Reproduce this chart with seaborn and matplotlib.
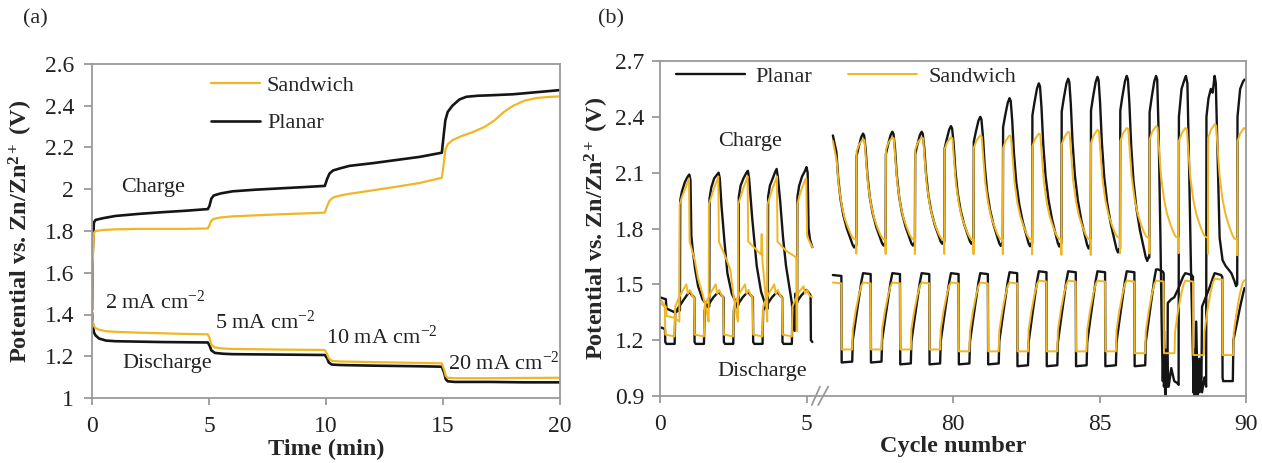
import matplotlib
matplotlib.use("Agg")
import matplotlib.pyplot as plt
from matplotlib.lines import Line2D
import numpy as np
import pandas as pd
import seaborn as sns

# ===================== Panel (a): rate test (time in min, potential in V) =====================
A_PL_CH_T = [0, 0.03, 0.08, 0.15, 0.5, 1, 2, 3, 4, 4.95, 5.02, 5.1, 5.2, 5.5, 6, 7, 8, 9, 9.95, 10.05,
             10.15, 10.3, 10.6, 11, 12, 13, 14, 14.95, 15.03, 15.1, 15.2, 15.4, 15.7, 16, 16.5, 17, 18, 19, 20]
A_PL_CH_V = [1.42, 1.70, 1.84, 1.853, 1.862, 1.872, 1.882, 1.89, 1.897, 1.905, 1.92, 1.955, 1.97, 1.98, 1.99,
             1.998, 2.004, 2.01, 2.016, 2.05, 2.075, 2.09, 2.10, 2.112, 2.125, 2.14, 2.155, 2.175, 2.26, 2.33,
             2.37, 2.40, 2.43, 2.443, 2.448, 2.45, 2.455, 2.465, 2.475]
A_SW_CH_T = [0, 0.03, 0.08, 0.15, 0.5, 1, 2, 3, 4, 4.95, 5.03, 5.1, 5.2, 5.5, 6, 7, 8, 9, 9.95, 10.05,
             10.15, 10.3, 10.6, 11, 12, 13, 14, 14.95, 15.03, 15.1, 15.2, 15.4, 15.8, 16.3, 16.8, 17.2, 17.6,
             18, 18.5, 19, 19.5, 20]
A_SW_CH_V = [1.42, 1.65, 1.79, 1.80, 1.805, 1.808, 1.81, 1.81, 1.81, 1.812, 1.83, 1.85, 1.858, 1.865, 1.87,
             1.875, 1.88, 1.884, 1.888, 1.92, 1.945, 1.96, 1.97, 1.978, 1.995, 2.012, 2.03, 2.055, 2.12, 2.19,
             2.215, 2.235, 2.255, 2.275, 2.30, 2.33, 2.37, 2.40, 2.425, 2.437, 2.442, 2.445]
A_DIS_T = [0, 0.03, 0.08, 0.15, 0.3, 0.6, 1, 2, 3, 4, 4.95, 5.03, 5.1, 5.25, 5.6, 6, 8, 9.95, 10.05, 10.12,
           10.25, 10.6, 12, 14, 14.95, 15.05, 15.12, 15.2, 15.5, 17, 18.5, 20]
A_PL_DIS_V = [1.41, 1.36, 1.315, 1.30, 1.285, 1.275, 1.272, 1.27, 1.268, 1.267, 1.266, 1.25, 1.228, 1.216,
              1.212, 1.21, 1.208, 1.206, 1.19, 1.17, 1.16, 1.158, 1.155, 1.152, 1.15, 1.12, 1.09, 1.08,
              1.077, 1.077, 1.075, 1.075]
A_SW_DIS_V = [1.41, 1.37, 1.345, 1.335, 1.327, 1.32, 1.317, 1.313, 1.31, 1.307, 1.305, 1.285, 1.255, 1.242,
              1.237, 1.235, 1.232, 1.23, 1.21, 1.19, 1.178, 1.175, 1.172, 1.168, 1.166, 1.135, 1.105, 1.097,
              1.095, 1.095, 1.096, 1.097]
A_XTICKS = [0, 5, 10, 15, 20]
A_YTICKS = [1, 1.2, 1.4, 1.6, 1.8, 2, 2.2, 2.4, 2.6]
A_YTICK_LABELS = ["1", "1.2", "1.4", "1.6", "1.8", "2", "2.2", "2.4", "2.6"]
A_RATE_LABELS = ["2 mA cm$^{-2}$", "5 mA cm$^{-2}$", "10 mA cm$^{-2}$", "20 mA cm$^{-2}$"]

# ===================== Panel (b): cycling (cycle number, potential in V) =====================
# first cycles 0-5.2 (read vertex by vertex)
B_PL_CH_L_C = [0, 0.2, 0.22, 0.5, 0.68, 0.69, 0.75, 0.85, 0.95, 1.0, 1.04, 1.07, 1.12, 1.2, 1.3, 1.45, 1.6, 1.68,
               1.69, 1.75, 1.85, 1.95, 2.0, 2.04, 2.1, 2.2, 2.3, 2.45, 2.6, 2.68,
               2.69, 2.75, 2.85, 2.95, 3.0, 3.04, 3.15, 3.3, 3.45, 3.6, 3.68,
               3.69, 3.75, 3.85, 3.92, 3.98, 4.02, 4.1, 4.2, 4.3, 4.4, 4.5, 4.55, 4.6, 4.62, 4.68,
               4.69, 4.75, 4.85, 4.95, 5.0, 5.04, 5.07, 5.12, 5.2]
B_PL_CH_L_V = [1.43, 1.42, 1.37, 1.35, 1.36, 1.95, 2.00, 2.05, 2.08, 2.09, 2.06, 1.76, 1.68, 1.58, 1.49, 1.42, 1.39, 1.38,
               1.96, 2.02, 2.07, 2.09, 2.10, 2.07, 1.92, 1.73, 1.56, 1.45, 1.40, 1.39,
               1.97, 2.03, 2.07, 2.10, 2.11, 2.07, 1.85, 1.60, 1.46, 1.39, 1.37,
               1.97, 2.03, 2.07, 2.10, 2.12, 2.08, 1.95, 1.75, 1.60, 1.50, 1.40, 1.28, 1.25, 1.45, 1.40,
               1.97, 2.03, 2.08, 2.11, 2.13, 2.10, 1.80, 1.74, 1.70]
B_SW_CH_L_C = [0, 0.2, 0.22, 0.5, 0.66, 0.67, 0.75, 0.85, 0.95, 0.99, 1.01, 1.1, 1.2, 1.3, 1.45, 1.6, 1.66,
               1.67, 1.75, 1.85, 1.95, 1.99, 2.01, 2.2, 2.4, 2.5, 2.6, 2.66,
               2.67, 2.75, 2.85, 2.95, 2.99, 3.01, 3.2, 3.45, 3.47, 3.5, 3.6, 3.66,
               3.67, 3.75, 3.85, 3.95, 3.99, 4.01, 4.3, 4.6, 4.65, 4.66, 4.68,
               4.69, 4.75, 4.85, 4.95, 4.99, 5.02, 5.1, 5.2]
B_SW_CH_L_V = [1.42, 1.38, 1.33, 1.32, 1.30, 1.93, 1.97, 2.01, 2.05, 2.07, 1.73, 1.68, 1.62, 1.53, 1.45, 1.35, 1.30,
               1.93, 1.97, 2.02, 2.06, 2.08, 1.73, 1.66, 1.58, 1.45, 1.35, 1.30,
               1.93, 1.97, 2.02, 2.06, 2.08, 1.73, 1.70, 1.66, 1.77, 1.62, 1.45, 1.30,
               1.93, 1.97, 2.02, 2.06, 2.08, 1.73, 1.68, 1.65, 1.64, 1.25, 1.25,
               1.93, 1.97, 2.02, 2.06, 2.07, 1.76, 1.73, 1.70]
B_PL_DIS_L_C = [0, 0.17, 0.18, 0.22, 0.50, 0.52, 0.65, 0.82, 1.0, 1.1, 1.17,
                1.18, 1.22, 1.50, 1.52, 1.65, 1.82, 2.0, 2.1, 2.17,
                2.18, 2.22, 2.50, 2.52, 2.65, 2.82, 3.0, 3.1, 3.17,
                3.18, 3.22, 3.50, 3.52, 3.65, 3.82, 4.0, 4.1, 4.17,
                4.18, 4.22, 4.50, 4.52, 4.65, 4.82, 5.0, 5.1, 5.14, 5.15, 5.2]
B_PL_DIS_L_V = [1.27, 1.26, 1.19, 1.18, 1.18, 1.35, 1.38, 1.42, 1.46, 1.44, 1.43,
                1.19, 1.18, 1.18, 1.36, 1.39, 1.43, 1.46, 1.44, 1.43,
                1.19, 1.18, 1.18, 1.36, 1.39, 1.43, 1.46, 1.44, 1.43,
                1.19, 1.18, 1.18, 1.36, 1.39, 1.43, 1.46, 1.44, 1.43,
                1.19, 1.18, 1.18, 1.37, 1.40, 1.44, 1.47, 1.45, 1.44, 1.20, 1.19]
B_SW_DIS_L_C = [0, 0.16, 0.18, 0.50, 0.52, 0.62, 0.75, 0.9, 0.95, 1.02, 1.1, 1.16,
                1.18, 1.50, 1.52, 1.62, 1.75, 1.9, 1.95, 2.02, 2.1, 2.16,
                2.18, 2.50, 2.52, 2.62, 2.75, 2.9, 2.95, 3.02, 3.1, 3.16,
                3.18, 3.50, 3.52, 3.62, 3.75, 3.9, 3.95, 4.02, 4.1, 4.16,
                4.18, 4.50, 4.52, 4.62, 4.75, 4.9, 4.95, 5.02, 5.1, 5.2]
B_SW_DIS_L_V = [1.40, 1.38, 1.23, 1.22, 1.38, 1.42, 1.46, 1.50, 1.45, 1.47, 1.44, 1.43,
                1.23, 1.22, 1.38, 1.42, 1.46, 1.50, 1.45, 1.47, 1.44, 1.43,
                1.23, 1.22, 1.38, 1.42, 1.46, 1.50, 1.45, 1.47, 1.44, 1.43,
                1.23, 1.22, 1.38, 1.42, 1.46, 1.50, 1.45, 1.47, 1.44, 1.43,
                1.23, 1.22, 1.38, 1.42, 1.46, 1.49, 1.45, 1.47, 1.44, 1.43]

# cycles 75.9-90: one value per cycle (peak / low of each charge, top / bottom of each discharge)
B_R_START = 75.9
B_PL_CH_CYC = [76, 77, 78, 79, 80, 81, 82, 83, 84, 85, 86]
B_PL_CH_START = 2.30
B_PL_CH_PEAK = [2.31, 2.32, 2.32, 2.35, 2.40, 2.50, 2.58, 2.605, 2.615, 2.62, 2.62]
B_PL_CH_LOW = [1.71, 1.72, 1.72, 1.73, 1.73, 1.72, 1.72, 1.72, 1.71, 1.69, 1.645]
B_PL_CH_TAIL_C = [87.02, 87.08, 87.12, 87.16, 87.2, 87.24, 87.3, 87.36, 87.45, 87.55, 87.65, 87.70, 87.71,
                  87.8, 87.9, 87.95, 88.0, 88.05, 88.12, 88.2, 88.25, 88.3, 88.35, 88.42, 88.5, 88.58, 88.64,
                  88.65, 88.72, 88.8, 88.86, 88.93, 88.97, 89.03, 89.1, 89.2, 89.3, 89.4, 89.5, 89.6, 89.66,
                  89.7, 89.71, 89.8, 89.9, 89.95, 90.0]
B_PL_CH_TAIL_V = [2.30, 1.75, 1.30, 0.98, 1.25, 0.92, 1.15, 0.95, 1.05, 0.98, 0.97, 0.96, 2.40,
                  2.55, 2.60, 2.62, 2.58, 2.20, 1.60, 1.05, 0.90, 1.30, 0.89, 1.10, 0.92, 1.00, 0.95,
                  2.40, 2.50, 2.55, 2.53, 2.62, 2.58, 2.20, 1.75, 1.63, 1.60, 1.58, 1.56, 1.52, 1.49,
                  1.50, 2.40, 2.55, 2.59, 2.60, 2.60]
B_SW_CH_CYC = [76, 77, 78, 79, 80, 81, 82, 83, 84, 85, 86, 87, 88, 89]
B_SW_CH_START = 2.27
B_SW_CH_PEAK = [2.28, 2.29, 2.29, 2.29, 2.30, 2.30, 2.31, 2.32, 2.33, 2.34, 2.35, 2.34, 2.36, 2.34]
B_SW_CH_LOW = [1.74, 1.74, 1.74, 1.74, 1.74, 1.74, 1.74, 1.74, 1.74, 1.75, 1.75, 1.75, 1.75, 1.74]
B_PL_DIS_CYC = [76, 77, 78, 79, 80, 81, 82, 83, 84, 85, 86]
B_PL_DIS_START = 1.55
B_PL_DIS_TOP = [1.56, 1.56, 1.56, 1.56, 1.56, 1.565, 1.57, 1.57, 1.57, 1.57, 1.58]
B_PL_DIS_BOT = [1.08, 1.08, 1.07, 1.07, 1.07, 1.07, 1.06, 1.06, 1.06, 1.06, 1.06]
B_PL_DIS_TAIL_C = [87.0, 87.15, 87.19, 87.2, 87.23, 87.26, 87.29, 87.32, 87.33, 87.45, 87.55, 87.7, 87.85,
                   87.93, 88.15, 88.19, 88.2, 88.25, 88.3, 88.35, 88.42, 88.48, 88.5, 88.6, 88.75, 88.88,
                   88.93, 89.15, 89.19, 89.2, 89.22, 89.55, 89.57, 89.7, 89.8, 89.9, 89.95]
B_PL_DIS_TAIL_V = [1.58, 1.57, 1.56, 0.95, 1.15, 0.90, 1.10, 0.95, 1.40, 1.42, 1.43, 1.48, 1.54,
                   1.56, 1.55, 1.54, 0.92, 1.15, 0.90, 1.10, 0.92, 1.00, 1.38, 1.42, 1.48, 1.54,
                   1.56, 1.55, 1.54, 1.00, 0.98, 0.98, 1.20, 1.30, 1.38, 1.45, 1.48]
B_SW_DIS_CYC = [76, 77, 78, 79, 80, 81, 82, 83, 84, 85, 86, 87, 88, 89]
B_SW_DIS_START = 1.51
B_SW_DIS_TOP = [1.51, 1.51, 1.51, 1.51, 1.51, 1.51, 1.52, 1.52, 1.52, 1.52, 1.52, 1.52, 1.53, 1.52]
B_SW_DIS_BOT = [1.15, 1.15, 1.15, 1.15, 1.14, 1.14, 1.14, 1.14, 1.14, 1.14, 1.13, 1.13, 1.12, 1.12]
B_END = 90.0
B_XTICK_CYCLES = [0, 5, 80, 85, 90]
B_YTICKS = [0.9, 1.2, 1.5, 1.8, 2.1, 2.4, 2.7]

# shape of one cycle (phase within a cycle, fraction between low and peak)
CH_RISE_PH = [0.70, 0.71, 0.78, 0.87, 0.93, 0.97]
PL_CH_RISE_F = [0.0, 0.80, 0.88, 0.97, 1.0, 0.98]
PL_CH_DEC_PH = [1.02, 1.08, 1.16, 1.26, 1.38, 1.50, 1.58, 1.63, 1.67]
PL_CH_DEC_G = [0.85, 0.62, 0.42, 0.27, 0.15, 0.06, 0.0, -0.02, 0.0]
SW_CH_RISE_PH = [0.695, 0.70, 0.71, 0.80, 0.93, 0.98]
SW_CH_RISE_F = [0.0, -0.14, 0.88, 0.95, 1.0, 0.99]
SW_CH_DEC_PH = [1.03, 1.10, 1.20, 1.30, 1.42, 1.52, 1.60, 1.69]
SW_CH_DEC_G = [0.8, 0.55, 0.35, 0.22, 0.12, 0.05, 0.01, 0.0]
DIS_PH = [0.19, 0.20, 0.56, 0.58, 0.68, 0.78, 0.87, 0.93]
PL_DIS_H = [None, 0.0, 0.01, 0.25, 0.48, 0.70, 0.90, 1.0]
SW_DIS_H = [None, 0.0, 0.0, 0.30, 0.58, 0.80, 0.95, 1.0]
AXIS_SHIFT = 70  # cycles 75-90 are drawn right after cycle 5 (broken axis)

BLACK = "#151515"
GOLD = "#F1B624"
SPINE = "#9a9a9a"


def build_charge(start_v, cycles, peaks, lows, rise_ph, rise_f, dec_ph, dec_g):
    xs, ys = [B_R_START], [start_v]
    prev = start_v
    for n, pk, lo in zip(cycles, peaks, lows):
        for ph, g in zip(dec_ph, dec_g):
            x = n - 1 + ph
            if x > xs[-1]:
                xs.append(x)
                ys.append(lo + g * (prev - lo))
        for ph, f in zip(rise_ph, rise_f):
            xs.append(n + ph)
            ys.append(lo + f * (pk - lo))
        prev = pk
    return xs, ys


def build_discharge(start_v, cycles, tops, bots, ph, h):
    xs, ys = [B_R_START], [start_v]
    prev = start_v
    for n, top, bot in zip(cycles, tops, bots):
        xs.append(n + ph[0])
        ys.append(prev - 0.005)
        for p, hh in zip(ph[1:], h[1:]):
            xs.append(n + p)
            ys.append(bot + hh * (top - bot))
        prev = top
    return xs, ys


pc_x, pc_y = build_charge(B_PL_CH_START, B_PL_CH_CYC, B_PL_CH_PEAK, B_PL_CH_LOW,
                          CH_RISE_PH, PL_CH_RISE_F, PL_CH_DEC_PH, PL_CH_DEC_G)
pc_x += B_PL_CH_TAIL_C
pc_y += B_PL_CH_TAIL_V
sc_x, sc_y = build_charge(B_SW_CH_START, B_SW_CH_CYC, B_SW_CH_PEAK, B_SW_CH_LOW,
                          SW_CH_RISE_PH, SW_CH_RISE_F, SW_CH_DEC_PH, SW_CH_DEC_G)
sc_x.append(B_END)
sc_y.append(B_SW_CH_PEAK[-1])
pd_x, pd_y = build_discharge(B_PL_DIS_START, B_PL_DIS_CYC, B_PL_DIS_TOP, B_PL_DIS_BOT, DIS_PH, PL_DIS_H)
pd_x += B_PL_DIS_TAIL_C
pd_y += B_PL_DIS_TAIL_V
sd_x, sd_y = build_discharge(B_SW_DIS_START, B_SW_DIS_CYC, B_SW_DIS_TOP, B_SW_DIS_BOT, DIS_PH, SW_DIS_H)
sd_x.append(B_END)
sd_y.append(B_SW_DIS_TOP[-1] + 0.005)


def to_axis(cycles):
    return [c if c < 6 else c - AXIS_SHIFT for c in cycles]


# ===================== styling =====================
sns.set_theme(style="white")
plt.rcParams["font.family"] = ["Liberation Serif", "DejaVu Serif"]
plt.rcParams["mathtext.fontset"] = "custom"
plt.rcParams["mathtext.rm"] = "Liberation Serif"
plt.rcParams["mathtext.it"] = "Liberation Serif:italic"
plt.rcParams["mathtext.bf"] = "Liberation Serif:bold"

fig = plt.figure(figsize=(12.62, 4.63), dpi=100)
ax_a = fig.add_axes([92 / 1262, 65 / 463, 468 / 1262, 334 / 463])
ax_b = fig.add_axes([660 / 1262, 67 / 463, 586 / 1262, 335 / 463])

TICK_FS = 17
LABEL_FS = 17.5
TEXT_FS = 16


def line(ax, x, y, color, lw):
    df = pd.DataFrame({"x": x, "y": y})
    sns.lineplot(data=df, x="x", y="y", ax=ax, color=color, linewidth=lw,
                 sort=False, estimator=None, legend=False)


def style_axes(ax, ypad=7):
    for s in ax.spines.values():
        s.set_visible(True)
        s.set_color(SPINE)
        s.set_linewidth(1.3)
    ax.tick_params(axis="both", which="major", direction="out", color=SPINE, width=1.3,
                   labelsize=TICK_FS, labelcolor="#222222")
    ax.tick_params(axis="y", length=6, pad=ypad)
    ax.tick_params(axis="x", length=5, pad=8)
    ax.tick_params(top=False, right=False, bottom=True, left=True)
    ax.grid(False)


# ---- panel (a)
line(ax_a, A_PL_CH_T, A_PL_CH_V, BLACK, 1.9)
line(ax_a, A_DIS_T, A_PL_DIS_V, BLACK, 1.9)
line(ax_a, A_SW_CH_T, A_SW_CH_V, GOLD, 1.6)
line(ax_a, A_DIS_T, A_SW_DIS_V, GOLD, 1.6)
ax_a.set_xlim(0, 20)
ax_a.set_ylim(1, 2.6)
ax_a.set_xticks(A_XTICKS)
ax_a.set_xticklabels([str(t) for t in A_XTICKS])
ax_a.set_yticks(A_YTICKS)
ax_a.set_yticklabels(A_YTICK_LABELS)
style_axes(ax_a)
ax_a.set_xlabel("Time (min)", fontsize=LABEL_FS, fontweight="bold", labelpad=1)
ax_a.set_ylabel("Potential vs. Zn/Zn$^{\\mathbf{2+}}$ (V)", fontsize=LABEL_FS, fontweight="bold")
ax_a.yaxis.set_label_coords(-0.122, 0.5)
ax_a.text(2.6, 2.006, "Charge", fontsize=TEXT_FS, ha="center", va="center", color="#222222")
ax_a.text(3.2, 1.167, "Discharge", fontsize=TEXT_FS, ha="center", va="center", color="#222222")
for (tx, ty), lab in zip([(2.7, 1.46), (7.4, 1.364), (12.4, 1.292), (17.6, 1.167)], A_RATE_LABELS):
    ax_a.text(tx, ty, lab, fontsize=TEXT_FS, ha="center", va="center", color="#222222")
h_a = [Line2D([], [], color=GOLD, lw=1.6), Line2D([], [], color=BLACK, lw=1.9)]
ax_a.legend(h_a, ["Sandwich", "Planar"], loc="upper left", bbox_to_anchor=(0.255, 0.965),
            frameon=False, fontsize=TEXT_FS, handlelength=2.2, handletextpad=0.3,
            labelspacing=0.75, borderpad=0, borderaxespad=0)
fig.text(35 / 1262, 1 - 19 / 463, "(a)", fontsize=TEXT_FS, ha="center", va="center")

# ---- panel (b)
line(ax_b, B_PL_CH_L_C, B_PL_CH_L_V, BLACK, 1.7)
line(ax_b, B_PL_DIS_L_C, B_PL_DIS_L_V, BLACK, 1.7)
line(ax_b, to_axis(pc_x), pc_y, BLACK, 1.7)
line(ax_b, to_axis(pd_x), pd_y, BLACK, 1.7)
line(ax_b, B_SW_CH_L_C, B_SW_CH_L_V, GOLD, 1.4)
line(ax_b, B_SW_DIS_L_C, B_SW_DIS_L_V, GOLD, 1.4)
line(ax_b, to_axis(sc_x), sc_y, GOLD, 1.4)
line(ax_b, to_axis(sd_x), sd_y, GOLD, 1.4)
ax_b.set_xlim(0, 20)
ax_b.set_ylim(0.9, 2.7)
ax_b.set_xticks(to_axis(B_XTICK_CYCLES))
ax_b.set_xticklabels([str(c) for c in B_XTICK_CYCLES])
ax_b.set_yticks(B_YTICKS)
ax_b.set_yticklabels([f"{v:.1f}" for v in B_YTICKS])
style_axes(ax_b, ypad=5)
ax_b.set_xlabel("Cycle number", fontsize=LABEL_FS, fontweight="bold", labelpad=1)
ax_b.set_ylabel("Potential vs. Zn/Zn$^{\\mathbf{2+}}$ (V)", fontsize=LABEL_FS, fontweight="bold")
ax_b.yaxis.set_label_coords(-0.083, 0.5)
ax_b.text(3.07, 2.266, "Charge", fontsize=TEXT_FS, ha="center", va="center", color="#222222")
ax_b.text(3.5, 1.034, "Discharge", fontsize=TEXT_FS, ha="center", va="center", color="#222222")
h_b = [Line2D([], [], color=BLACK, lw=1.7), Line2D([], [], color=GOLD, lw=1.4)]
ax_b.legend(h_b, ["Planar", "Sandwich"], loc="upper left", bbox_to_anchor=(0.027, 0.985), ncol=2,
            frameon=False, fontsize=TEXT_FS, handlelength=3.1, handletextpad=0.5,
            columnspacing=1.6, borderpad=0, borderaxespad=0)
# axis-break marks
for x0, x1 in [(0.259, 0.273), (0.270, 0.287)]:
    ax_b.plot([x0, x1], [-0.027, 0.028], transform=ax_b.transAxes, color=SPINE, lw=1.3,
              clip_on=False)
fig.text(611 / 1262, 1 - 19 / 463, "(b)", fontsize=TEXT_FS, ha="center", va="center")

fig.savefig("out.png", dpi=100)
